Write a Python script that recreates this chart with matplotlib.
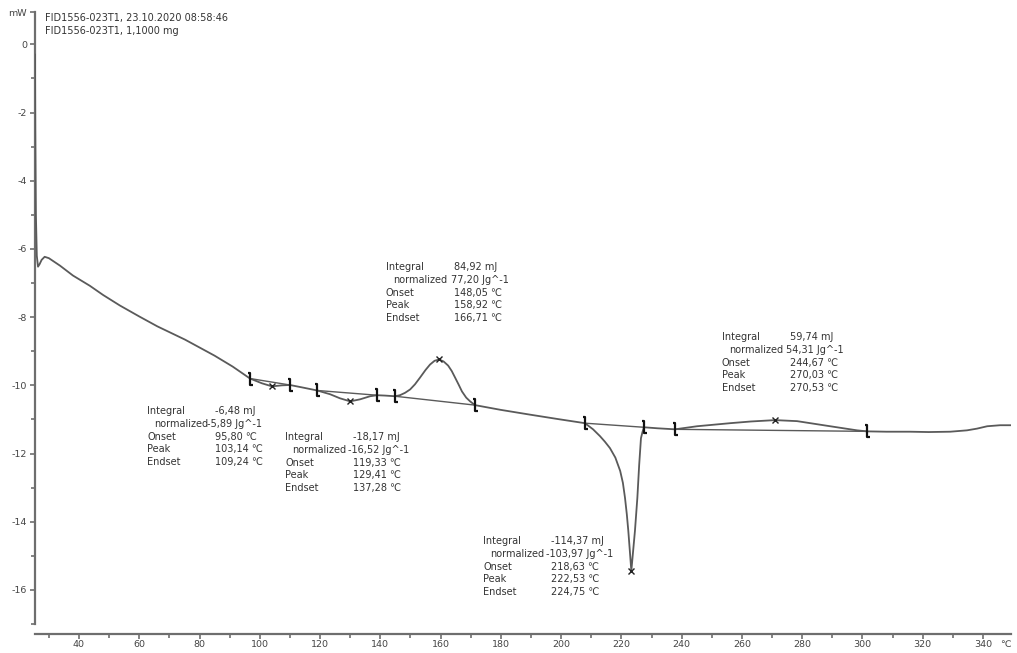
import matplotlib
matplotlib.use("Agg")
import matplotlib.pyplot as plt
from matplotlib.path import Path
import numpy as np

# DSC curve: temperature (degC) and heat flow (mW)
temp = [25.4, 25.5, 25.7, 26.0, 26.4, 26.9, 27.6, 28.6, 30.0, 33.7, 38.0, 43.6,
        48.0, 53.6, 60.0, 66.0, 75.2, 85.0, 91.0, 96.75,
        100.7, 104.05, 107.4, 110.0, 114.0, 119.0,
        123.3, 126.6, 130.0, 133.3, 136.6, 138.9, 141.5, 144.9,
        146.5, 148.2, 149.9, 151.5, 153.2, 155.0, 156.5, 158.0, 159.5, 161.0,
        162.5, 163.7, 164.8, 166.0, 167.1, 168.5, 169.8, 171.4,
        180.0, 189.7, 199.0, 207.9,
        210.6, 212.9, 214.5, 216.2, 218.0, 219.6, 220.5, 221.2, 221.8, 222.3, 222.8, 223.3,
        224.5, 225.3, 225.9, 226.5, 227.0, 227.5, 232.0, 237.8,
        245.1, 256.1, 263.0, 271.0, 278.3, 289.3, 298.2, 301.5,
        308.0, 315.8, 322.0, 329.1, 334.7, 338.0, 341.4, 345.7, 349.3]
heat_flow = [-0.3, -2.5, -5.0, -6.2, -6.52, -6.45, -6.32, -6.23, -6.27, -6.49, -6.78, -7.08,
             -7.35, -7.66, -7.98, -8.27, -8.66, -9.13, -9.45, -9.80,
             -9.94, -10.03, -10.00, -9.99, -10.06, -10.15,
             -10.26, -10.38, -10.47, -10.41, -10.32, -10.29, -10.30, -10.32,
             -10.29, -10.22, -10.12, -9.97, -9.77, -9.55, -9.39, -9.28, -9.24, -9.30,
             -9.42, -9.58, -9.77, -9.98, -10.18, -10.36, -10.47, -10.58,
             -10.72, -10.86, -10.99, -11.11,
             -11.29, -11.49, -11.65, -11.84, -12.12, -12.51, -12.86, -13.30, -13.78, -14.27, -14.85, -15.44,
             -14.27, -13.30, -12.34, -11.55, -11.37, -11.23, -11.26, -11.29,
             -11.20, -11.11, -11.06, -11.02, -11.05, -11.20, -11.32, -11.35,
             -11.36, -11.36, -11.37, -11.36, -11.32, -11.27, -11.20, -11.17, -11.17]

# integration limits and peak positions of the five events
limits = [(96.75, 110.0), (119.0, 138.9), (144.9, 171.4), (207.9, 227.5), (237.8, 301.5)]
peaks = [104.05, 130.0, 159.5, 223.3, 271.0]

integral = ["-6,48 mJ", "-18,17 mJ", "84,92 mJ", "-114,37 mJ", "59,74 mJ"]
normalized = ["-5,89 Jg^-1", "-16,52 Jg^-1", "77,20 Jg^-1", "-103,97 Jg^-1", "54,31 Jg^-1"]
onset = ["95,80 \u2103", "119,33 \u2103", "148,05 \u2103", "218,63 \u2103", "244,67 \u2103"]
peak_t = ["103,14 \u2103", "129,41 \u2103", "158,92 \u2103", "222,53 \u2103", "270,03 \u2103"]
endset = ["109,24 \u2103", "137,28 \u2103", "166,71 \u2103", "224,75 \u2103", "270,53 \u2103"]

header = ["FID1556-023T1, 23.10.2020 08:58:46", "FID1556-023T1, 1,1000 mg"]

W, H = 1017, 653
fig = plt.figure(figsize=(W / 100, H / 100), dpi=100)
ax = fig.add_axes([35 / W, 1 - 624 / H, (1011 - 35) / W, (624 - 12) / H])

line_c = "#5a5a5a"
axis_c = "#6e6e6e"
text_c = "#333333"

ax.plot(temp, heat_flow, color=line_c, lw=1.3, zorder=3)

# bracket marker for integration limits
bracket = Path([(-0.4, 1), (0, 1), (0, -1), (0.4, -1)],
               [Path.MOVETO, Path.LINETO, Path.LINETO, Path.LINETO])
for a, b in limits:
    ya, yb = np.interp([a, b], temp, heat_flow)
    ax.plot([a, b], [ya, yb], color=line_c, lw=1.0, zorder=2)
    ax.plot([a, b], [ya, yb], ls="none", marker=bracket, ms=9, mew=1.6,
            color="#111111", mfc="none", zorder=4)
ax.plot(peaks, np.interp(peaks, temp, heat_flow), ls="none", marker="x",
        ms=5, mew=1.0, color="#222222", zorder=4)

ax.set_xlim(25.4, 349.3)
ax.set_ylim(-17, 0.95)

ax.set_xticks(np.arange(40, 341, 20))
ax.set_xticks(np.arange(30, 350, 10), minor=True)
ax.set_yticks(list(np.arange(-16, 1, 2)) + [0.95])
ax.set_yticklabels([str(v) for v in range(-16, 1, 2)] + ["mW"])
ax.set_yticks(np.arange(-17, 1, 1), minor=True)

for side in ["top", "right"]:
    ax.spines[side].set_visible(False)
ax.spines["bottom"].set_position(("outward", 7))
for side in ["left", "bottom"]:
    ax.spines[side].set_color(axis_c)
    ax.spines[side].set_linewidth(1.6)
ax.tick_params(which="both", colors=axis_c, labelcolor="#444444", labelsize=6.8, width=1.2)
ax.tick_params(which="major", length=3.8, pad=2)
ax.tick_params(which="minor", length=3)
ax.tick_params(axis="x", which="major", pad=1)

# unit label at the end of the temperature axis
ax.annotate("\u2103", xy=(347.5, 0), xycoords=("data", "axes fraction"),
            xytext=(0, -(7 + 3.8 + 1)), textcoords="offset points", fontsize=6.8,
            color="#444444", ha="center", va="top")


def ftext(x, y, s):
    fig.text(x / W, 1 - y / H, s, fontsize=7, color=text_c, va="center", ha="left")


ftext(45, 18, header[0])
ftext(45, 31, header[1])

# annotation block positions: (x of labels, y of first line, normalized value offset)
blocks = [(147, 411, 60), (285, 437, 63), (386, 267, 65), (483, 541, 63), (722, 337, 64)]
gap = 12.8
for i, (x0, y0, nx) in enumerate(blocks):
    ftext(x0, y0, "Integral")
    ftext(x0 + 68, y0, integral[i])
    ftext(x0 + 7, y0 + gap, "normalized")
    ftext(x0 + nx, y0 + gap, normalized[i])
    ftext(x0, y0 + 2 * gap, "Onset")
    ftext(x0 + 68, y0 + 2 * gap, onset[i])
    ftext(x0, y0 + 3 * gap, "Peak")
    ftext(x0 + 68, y0 + 3 * gap, peak_t[i])
    ftext(x0, y0 + 4 * gap, "Endset")
    ftext(x0 + 68, y0 + 4 * gap, endset[i])

fig.savefig("out.png", dpi=100)
